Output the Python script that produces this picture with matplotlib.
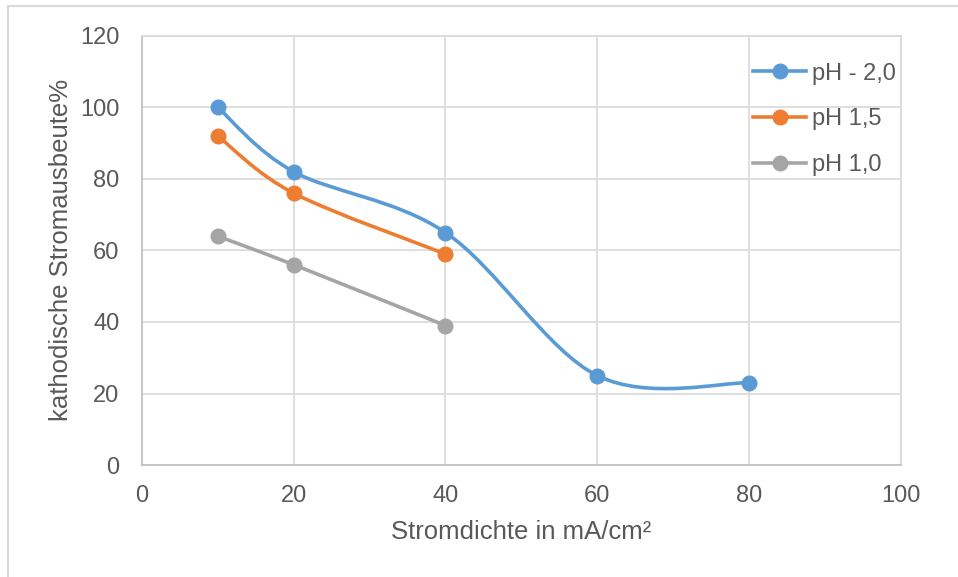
import numpy as np
import matplotlib.pyplot as plt
from matplotlib.path import Path
from matplotlib.patches import PathPatch, Rectangle
from matplotlib.lines import Line2D

plt.rcParams['font.family'] = ['Liberation Sans', 'DejaVu Sans']

# measured data
x_ph20 = [10, 20, 40, 60, 80]
y_ph20 = [100, 82, 65, 25, 23]
x_ph15 = [10, 20, 40]
y_ph15 = [92, 76, 59]
x_ph10 = [10, 20, 40]
y_ph10 = [64, 56, 39]

labels = ['pH - 2,0', 'pH 1,5', 'pH 1,0']
colors = ['#5B9BD5', '#ED7D31', '#A5A5A5']
text_col = '#595959'


def smooth_path(x, y, t=1.0 / 6):
    """Catmull-Rom style bezier through the points (spreadsheet smoothing)."""
    pts = np.column_stack([x, y]).astype(float)
    n = len(pts)
    verts = [pts[0]]
    codes = [Path.MOVETO]
    for i in range(n - 1):
        p0 = pts[i - 1] if i > 0 else pts[i]
        p1 = pts[i]
        p2 = pts[i + 1]
        p3 = pts[i + 2] if i + 2 < n else pts[i + 1]
        c1 = p1 + (p2 - p0) * t
        c2 = p2 - (p3 - p1) * t
        verts += [c1, c2, p2]
        codes += [Path.CURVE4] * 3
    return Path(verts, codes)


fig = plt.figure(figsize=(9.58, 5.77), dpi=100)
ax = fig.add_axes([0.148, 0.194, 0.7925, 0.744])

series = [(x_ph20, y_ph20), (x_ph15, y_ph15), (x_ph10, y_ph10)]
handles = []
for (xs, ys), lab, c in zip(series, labels, colors):
    ax.add_patch(PathPatch(smooth_path(xs, ys), facecolor='none', edgecolor=c,
                           lw=2.6, capstyle='round', zorder=3))
    ax.plot(xs, ys, 'o', color=c, ms=10.5, zorder=4)
    handles.append(Line2D([], [], color=c, lw=2.6, marker='o', ms=10.5, label=lab))

ax.set_xlim(0, 100)
ax.set_ylim(0, 120)
ax.set_xticks(np.arange(0, 101, 20))
ax.set_yticks(np.arange(0, 121, 20))
ax.grid(True, color='#D9D9D9', lw=1.2)
ax.set_axisbelow(True)
for s in ['top', 'right']:
    ax.spines[s].set_color('#D9D9D9')
    ax.spines[s].set_linewidth(1.2)
for s in ['left', 'bottom']:
    ax.spines[s].set_color('#BFBFBF')
    ax.spines[s].set_linewidth(1.2)
ax.tick_params(length=0, labelsize=17, colors=text_col)
ax.tick_params(axis='y', pad=16)
ax.tick_params(axis='x', pad=14)

ax.set_xlabel('Stromdichte in mA/cm²', fontsize=18.5, color=text_col, labelpad=10)
ax.set_ylabel('kathodische Stromausbeute%', fontsize=18.5, color=text_col, labelpad=5)

leg = ax.legend(handles=handles, loc='upper right', frameon=False, fontsize=17,
                labelcolor=text_col, handlelength=2.25, handletextpad=0.25,
                labelspacing=1.0, bbox_to_anchor=(1.009, 0.965), borderaxespad=0.1)

# outer chart frame
fig.patches.append(Rectangle((8 / 958, -0.05), 1.1, 1 - 6 / 577 + 0.05,
                             transform=fig.transFigure, fill=False,
                             edgecolor='#D9D9D9', lw=1.5))

fig.savefig('out.png', dpi=100)
